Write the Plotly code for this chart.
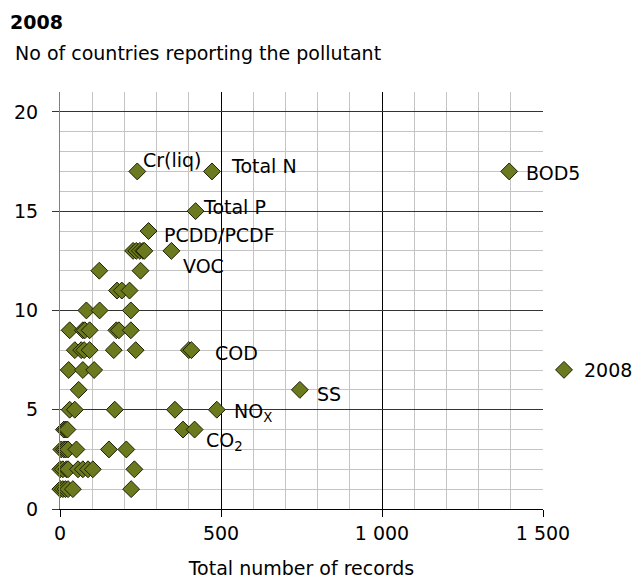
import plotly.graph_objects as go

# ---- data ----
records = [
    240, 472, 1395,
    421,
    275,
    227, 237, 248, 258, 262, 346,
    122, 250,
    177, 192, 216,
    82, 123, 220,
    30, 71, 77, 92, 175, 183, 220,
    46, 66, 75, 92, 167, 235, 400, 408,
    27, 71, 106,
    58, 745,
    30, 46, 170, 357, 487,
    12, 18, 23, 382, 418,
    4, 12, 18, 25, 51, 152, 206,
    1, 9, 20, 25, 56, 71, 87, 102, 231,
    1, 9, 17, 25, 40, 221,
]
countries = [
    17, 17, 17,
    15,
    14,
    13, 13, 13, 13, 13, 13,
    12, 12,
    11, 11, 11,
    10, 10, 10,
    9, 9, 9, 9, 9, 9, 9,
    8, 8, 8, 8, 8, 8, 8, 8,
    7, 7, 7,
    6, 6,
    5, 5, 5, 5, 5,
    4, 4, 4, 4, 4,
    3, 3, 3, 3, 3, 3, 3,
    2, 2, 2, 2, 2, 2, 2, 2, 2,
    1, 1, 1, 1, 1, 1,
]
labels = [
    "Cr(liq)", "Total N", "BOD5",
    "Total P",
    "PCDD/PCDF",
    "", "", "", "", "", "VOC",
    "", "",
    "", "", "",
    "", "", "",
    "", "", "", "", "", "", "",
    "", "", "", "", "", "", "COD", "",
    "", "", "",
    "", "SS",
    "", "", "", "", "NO<sub>X</sub>",
    "", "", "", "", "CO<sub>2</sub>",
    "", "", "", "", "", "", "",
    "", "", "", "", "", "", "", "", "",
    "", "", "", "", "", "",
]
series_name = "2008"
x_tickvals = [0, 500, 1000, 1500]
x_ticktext = ["0", "500", "1 000", "1 500"]

# ---- styling ----
FONT = "DejaVu Sans, Verdana, sans-serif"
FS = 19
OLIVE = "#6b7a1f"
label_offsets = {  # pixel offsets (xshift, yshift) of each label from its point
    "Cr(liq)": (4, 11), "Total N": (17, 5), "BOD5": (15, -2), "Total P": (5, 4),
    "PCDD/PCDF": (13, -4), "VOC": (10, -15), "COD": (24, -3), "SS": (15, -4),
    "NO<sub>X</sub>": (15, -3), "CO<sub>2</sub>": (9, -12),
}

fig = go.Figure()
fig.add_trace(go.Scatter(
    x=records, y=countries, mode="markers", name=series_name,
    marker=dict(symbol="diamond", size=13, color=OLIVE,
                line=dict(color="#1e1e00", width=1)),
    cliponaxis=False,
))

for xv, yv, lab in zip(records, countries, labels):
    if lab:
        dx, dy = label_offsets[lab]
        fig.add_annotation(x=xv, y=yv, text=lab, showarrow=False,
                           xanchor="left", yanchor="middle",
                           xshift=dx, yshift=dy,
                           font=dict(family=FONT, size=FS, color="#000"))

# title & subtitle
W, H = 637, 579
L, R, T, B = 60, 94, 92, 70
pw, ph = W - L - R, H - T - B
def px2paper(px, py):
    return (px - L) / pw, (H - B - py) / ph

tx, ty = px2paper(8, 22)
fig.add_annotation(xref="paper", yref="paper", x=tx, y=ty, text="<b>2008</b>",
                   showarrow=False, xanchor="left", yanchor="middle",
                   font=dict(family=FONT, size=FS, color="#000"))
sx, sy = px2paper(13, 53)
fig.add_annotation(xref="paper", yref="paper", x=sx, y=sy,
                   text="No of countries reporting the pollutant",
                   showarrow=False, xanchor="left", yanchor="middle",
                   font=dict(family=FONT, size=FS, color="#000"))

lx, ly = px2paper(544, 370)
fig.update_layout(
    width=W, height=H,
    margin=dict(l=L, r=R, t=T, b=B, autoexpand=False),
    paper_bgcolor="white", plot_bgcolor="white",
    font=dict(family=FONT, size=FS, color="#000"),
    showlegend=True,
    legend=dict(x=lx, y=ly, xanchor="left", yanchor="middle",
                font=dict(family=FONT, size=FS, color="#000"),
                itemwidth=30, bgcolor="rgba(0,0,0,0)"),
    xaxis=dict(
        range=[0, 1500], tickvals=x_tickvals, ticktext=x_ticktext,
        showgrid=True, gridcolor="#000000", gridwidth=1,
        zeroline=False, showline=True, linecolor="#000000", linewidth=1,
        ticks="outside", ticklen=7, tickcolor="#000000",
        automargin=False,
        minor=dict(dtick=100, showgrid=True, gridcolor="#c4c4c4", gridwidth=1, ticks=""),
        title=dict(text="Total number of records", standoff=22,
                   font=dict(family=FONT, size=FS)),
        tickfont=dict(family=FONT, size=FS),
    ),
    yaxis=dict(
        range=[0, 21], tickvals=[0, 5, 10, 15, 20],
        showgrid=True, gridcolor="#333333", gridwidth=1,
        zeroline=False, showline=True, linecolor="#808080", linewidth=1,
        ticks="outside", ticklen=7, tickcolor="#333333",
        ticklabelstandoff=10, automargin=False,
        minor=dict(dtick=1, showgrid=True, gridcolor="#c4c4c4", gridwidth=1, ticks=""),
        tickfont=dict(family=FONT, size=FS),
    ),
)

fig.write_html("out.html", config={"displayModeBar": False},
               post_script="document.body.style.margin='0';")
